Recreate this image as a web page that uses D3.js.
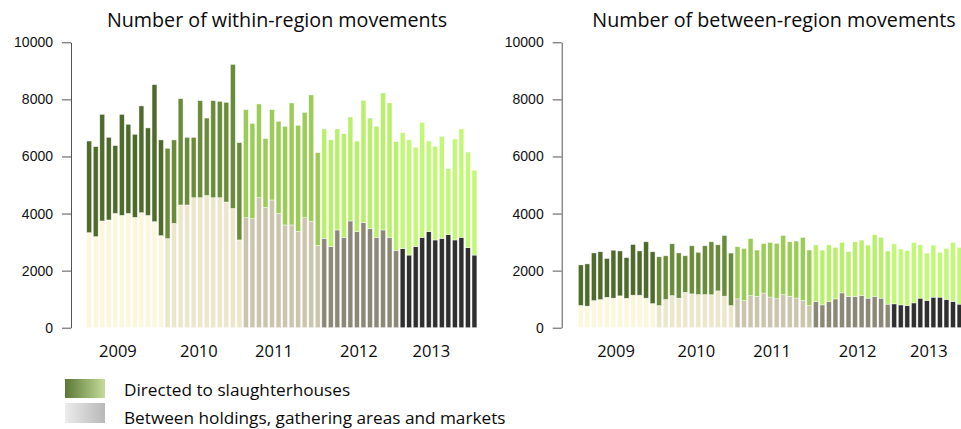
<!DOCTYPE html>
<html>
<head>
<meta charset="utf-8">
<script src="https://cdn.jsdelivr.net/npm/d3@7"></script>
<style>
  body { margin: 0; background: #fff; }
  svg { display: block; }
  .title, .year, .legend { font-family: "Open Sans", sans-serif; fill: #0a0a0a; }
  .yaxis text { font-family: "Liberation Sans", Arial, sans-serif; font-size: 14px; fill: #111; }
  .yaxis path, .yaxis line { stroke: #555; }
</style>
</head>
<body>
<svg width="961" height="429"></svg>
<script>
(function() {

  // monthly counts, Jan 2009 .. Dec 2013
  var years = ["2009", "2010", "2011", "2012", "2013"];

  var withinHoldings = [3330, 3190, 3740, 3775, 4005, 3935, 4005, 3865, 4030, 3935, 3715, 3225,
                        3120, 3655, 4300, 4300, 4555, 4555, 4635, 4555, 4555, 4405, 4180, 3075,
                        3855, 3820, 4555, 4215, 4475, 4005, 3600, 3600, 3375, 3855, 3725, 2885,
                        3130, 2840, 3425, 3165, 3740, 3365, 3680, 3480, 3165, 3425, 3165, 2710,
                        2770, 2545, 2840, 3165, 3365, 3075, 3130, 3260, 3075, 3165, 2805, 2545];
  var withinSlaughter = [3210, 3155, 3735, 2895, 2375, 3540, 3120, 2910, 3740, 3065, 4800, 3355,
                         3165, 2925, 3725, 2370, 2115, 3400, 2710, 3400, 3375, 3490, 5045, 3410,
                         3785, 3340, 3285, 2410, 3165, 3225, 3455, 4275, 3715, 3690, 4430, 3250,
                         3835, 3740, 3540, 3635, 3645, 3175, 4285, 3865, 3890, 4800, 4710, 3810,
                         4065, 4035, 3480, 4030, 3175, 3280, 3575, 2310, 3535, 3800, 3350, 2970];

  var betweenHoldings = [780, 755, 950, 985, 1065, 1035, 1115, 1030, 1140, 1140, 1035, 845,
                         775, 990, 1125, 1035, 1240, 1185, 1160, 1160, 1155, 1290, 1105, 775,
                         1010, 950, 1125, 1100, 1215, 1075, 1015, 1160, 1100, 1040, 955, 775,
                         915, 800, 915, 1010, 1220, 1095, 1095, 1130, 1035, 1095, 1035, 825,
                         835, 800, 780, 870, 1035, 955, 1070, 1070, 990, 920, 825, 800];
  var betweenSlaughter = [1420, 1480, 1670, 1675, 1360, 1680, 1575, 1425, 1775, 1550, 1975, 1815,
                          1710, 1530, 1815, 1585, 1280, 1685, 1480, 1710, 1855, 1615, 2125, 1840,
                          1830, 1825, 2000, 1620, 1735, 1910, 1940, 2070, 1910, 1995, 2210, 1945,
                          1985, 1920, 1985, 1805, 1770, 1570, 1915, 1940, 1860, 2160, 2130, 1860,
                          2105, 1955, 1920, 2120, 1870, 1660, 1825, 1570, 1790, 2070, 1990, 1950];

  // where the year labels sit, in months from Jan 2009
  var yearTicksLeft = [4.4, 16.8, 28.3, 41.3, 52.4];
  var yearTicksRight = [5.4, 17.7, 29.3, 42.4, 53.3];

  var yTicks = [0, 2000, 4000, 6000, 8000, 10000];

  var slaughterColors = ['#4e6b2b', '#6a8c3a', '#9ccb58', '#b9ef6d', '#c2f777'];
  var holdingColors = ['#fcf7dc', '#ece6cb', '#ccc5ae', '#8c8878', '#2f2f2f'];

  var svg = d3.select('svg');

  var defs = svg.append('defs');
  var g1 = defs.append('linearGradient').attr('id', 'gradGreen');
  g1.append('stop').attr('offset', '0%').attr('stop-color', '#5c7836');
  g1.append('stop').attr('offset', '100%').attr('stop-color', '#c4dc98');
  var g2 = defs.append('linearGradient').attr('id', 'gradGray');
  g2.append('stop').attr('offset', '0%').attr('stop-color', '#ececec');
  g2.append('stop').attr('offset', '100%').attr('stop-color', '#b8b8b8');

  var months = d3.range(60);

  var drawPanel = function(title, holdings, slaughter, axisX, x0, titleX, yearTicks) {
    var g = svg.append('g');

    var x = d3.scaleBand()
        .domain(months)
        .range([x0, x0 + 60.25 * 6.53])
        .padding(0.25);

    var y = d3.scaleLinear()
        .domain([0, 10000])
        .range([327.7, 42.3]);

    var stack = d3.stack().keys(['holdings', 'slaughter']);
    var rows = months.map(function(i) {
      return {month: i, holdings: holdings[i], slaughter: slaughter[i]};
    });
    var series = stack(rows);

    g.selectAll('.layer')
      .data(series)
      .enter().append('g')
      .attr('class', 'layer')
      .each(function(s, k) {
        var palette = k === 0 ? holdingColors : slaughterColors;
        d3.select(this).selectAll('rect')
          .data(s)
          .enter().append('rect')
          .attr('x', function(d) { return x(d.data.month); })
          .attr('width', x.bandwidth())
          .attr('y', function(d) { return y(d[1]); })
          .attr('height', function(d) { return y(d[0]) - y(d[1]); })
          .attr('fill', function(d) { return palette[Math.floor(d.data.month / 12)]; })
          .attr('stroke', 'rgba(255,255,255,0.7)')
          .attr('stroke-width', 0.6);
      });

    g.append('g')
      .attr('class', 'yaxis')
      .attr('transform', 'translate(' + axisX + ',0)')
      .call(d3.axisLeft(y).tickValues(yTicks).tickSize(9).tickSizeOuter(0).tickPadding(9)
        .tickFormat(d3.format('d')));

    var step = x.step();
    var first = x(0) + x.bandwidth() / 2;
    g.selectAll('.year')
      .data(years)
      .enter().append('text')
      .attr('class', 'year')
      .attr('x', function(d, i) { return first + yearTicks[i] * step; })
      .attr('y', 357)
      .attr('text-anchor', 'middle')
      .style('font-size', '16.5px')
      .text(function(d) { return d; });

    g.append('text')
      .attr('class', 'title')
      .attr('x', titleX)
      .attr('y', 27)
      .attr('text-anchor', 'middle')
      .style('font-size', '19.7px')
      .text(title);
  };

  drawPanel('Number of within-region movements', withinHoldings, withinSlaughter, 71, 85.1, 277, yearTicksLeft);
  drawPanel('Number of between-region movements', betweenHoldings, betweenSlaughter, 561.7, 576.7, 774, yearTicksRight);

  // legend
  var legend = svg.append('g');
  legend.append('rect').attr('x', 65).attr('y', 379).attr('width', 40).attr('height', 19)
    .attr('fill', 'url(#gradGreen)');
  legend.append('rect').attr('x', 65).attr('y', 403).attr('width', 40).attr('height', 20)
    .attr('fill', 'url(#gradGray)');
  legend.append('text').attr('class', 'legend').attr('x', 124).attr('y', 396)
    .style('font-size', '17.2px').text('Directed to slaughterhouses');
  legend.append('text').attr('class', 'legend').attr('x', 124).attr('y', 424)
    .style('font-size', '17.2px').text('Between holdings, gathering areas and markets');

})();
</script>
</body>
</html>
